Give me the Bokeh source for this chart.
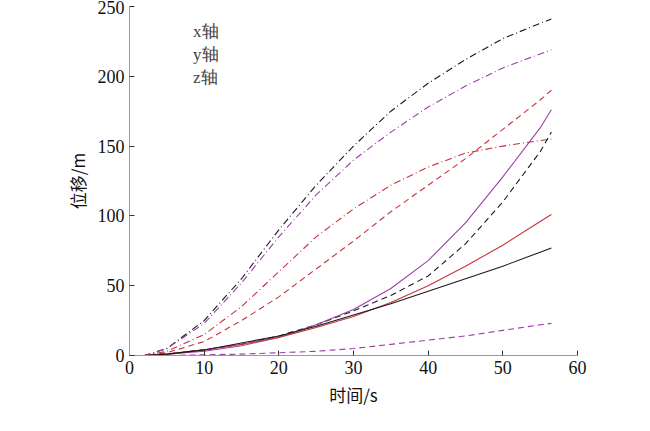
from bokeh.plotting import figure
from bokeh.models import Legend, LegendItem, Range1d
from bokeh.embed import file_html
from bokeh.resources import INLINE

t = [0, 2, 5, 10, 15, 20, 25, 30, 35, 40, 45, 50, 55, 56.5]
black_dashdot = [0, 0, 5, 25, 55, 90, 122, 150, 175, 195, 212, 227, 238, 241]
purple_dashdot = [0, 0, 5, 23, 52, 85, 115, 140, 160, 178, 193, 206, 216, 219]
red_dashdot = [0, 0, 3, 15, 35, 60, 85, 105, 122, 135, 145, 150, 154, 155]
red_dashed = [0, 0, 2, 10, 25, 42, 62, 82, 103, 122, 141, 162, 183, 190]
black_dashed = [0, 0, 1, 4, 8, 14, 22, 32, 43, 57, 80, 110, 146, 160]
purple_solid = [0, 0, 1, 3, 7, 13, 22, 33, 48, 68, 95, 128, 163, 176]
red_solid = [0, 0, 1, 4, 8, 13, 20, 28, 38, 50, 64, 79, 96, 101]
black_solid = [0, 0, 1, 4, 9, 14, 21, 29, 37, 46, 55, 64, 74, 77]
purple_dashed = [0, 0, 0, 0.5, 1, 2, 3, 5, 8, 11, 14, 18, 22, 23]

legend_labels = ["x轴", "y轴", "z轴"]
xlabel = "时间/s"
ylabel = "位移/m"

BLACK = "#1a1a1a"
PURPLE = "#9b3fa6"
RED = "#c8323c"
DASH = "6 4"
DASHDOT = "7 3 1 3"

p = figure(frame_width=448, frame_height=349, output_backend="svg", toolbar_location=None,
           x_range=Range1d(0, 60), y_range=Range1d(0, 250),
           min_border_left=129, min_border_right=40, min_border_top=6, min_border_bottom=52)
p.outline_line_color = None
p.grid.visible = False

series = [
    (black_dashdot, BLACK, DASHDOT), (purple_dashdot, PURPLE, DASHDOT), (red_dashdot, RED, DASHDOT),
    (red_dashed, RED, DASH), (black_dashed, BLACK, DASH), (purple_dashed, PURPLE, DASH),
    (purple_solid, PURPLE, "solid"), (red_solid, RED, "solid"), (black_solid, BLACK, "solid"),
]
for ys, c, d in series:
    p.line(t, ys, line_color=c, line_dash=d, line_width=1.1)

r1 = p.line([], [], line_color=BLACK, line_dash=DASH, line_width=1.1)
r2 = p.line([], [], line_color=BLACK, line_dash=DASHDOT, line_width=1.1)
r3 = p.line([], [], line_color=BLACK, line_width=1.1)
leg = Legend(items=[LegendItem(label=legend_labels[0], renderers=[r1]),
                    LegendItem(label=legend_labels[1], renderers=[r2]),
                    LegendItem(label=legend_labels[2], renderers=[r3])],
             location="top_left", margin=14, padding=4, border_line_color=None, background_fill_alpha=0,
             label_text_font="Liberation Serif", label_text_font_size="17px",
             glyph_width=42, spacing=0, label_standoff=8, label_height=22, glyph_height=22)
p.add_layout(leg, "center")

for ax in (p.xaxis[0], p.yaxis[0]):
    ax.axis_line_color = "#999999"
    ax.major_tick_line_color = "#333333"
    ax.major_tick_in = 5
    ax.major_tick_out = 0
    ax.minor_tick_line_color = None
    ax.major_label_text_font = "Liberation Serif"
    ax.major_label_text_font_size = "18px"
    ax.major_label_text_color = "#111111"
    ax.axis_label_text_font = "Noto Sans CJK SC"
    ax.axis_label_text_font_size = "17px"
    ax.axis_label_text_font_style = "normal"
    ax.axis_label_text_color = "#111111"
p.xaxis.ticker = [0, 10, 20, 30, 40, 50, 60]
p.yaxis.ticker = [0, 50, 100, 150, 200, 250]
p.xaxis.axis_label = xlabel
p.yaxis.axis_label = ylabel

open("out.html", "w").write(file_html(p, INLINE))
